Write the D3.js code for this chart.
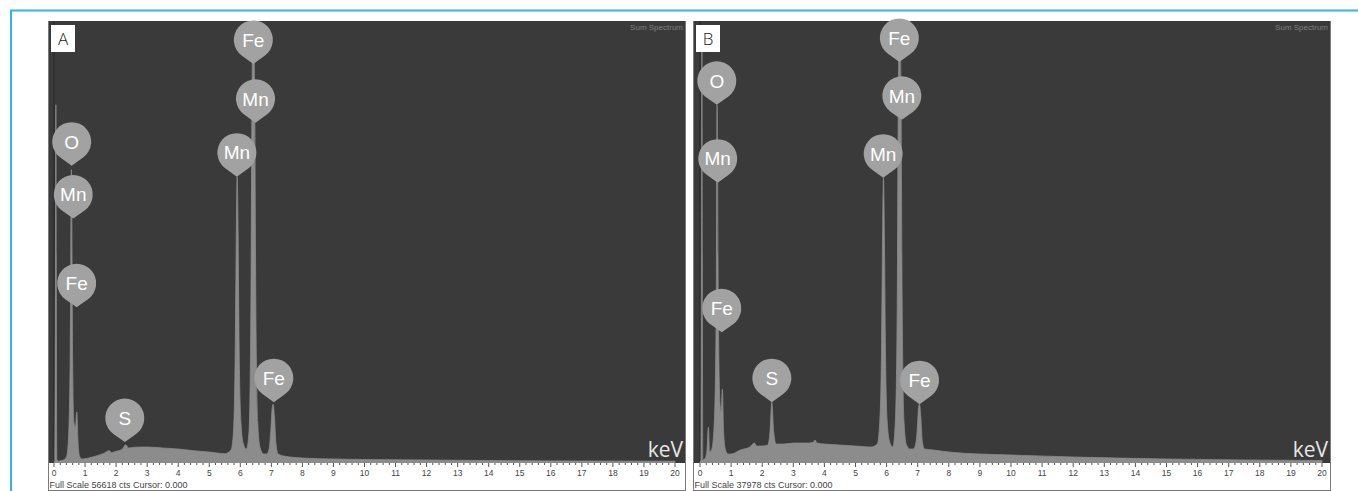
<!DOCTYPE html>
<html><head><meta charset="utf-8">
<script src="https://cdn.jsdelivr.net/npm/d3@7"></script>
<style>html,body{margin:0;padding:0;background:#fff;} svg{display:block;}</style>
</head><body>
<svg id="chart" width="1358" height="491"></svg>
<script>
// ---------- data ----------
const panelLetters = ["A", "B"];
const fullScales = [56618, 37978];
const tickLabels = [0,1,2,3,4,5,6,7,8,9,10,11,12,13,14,15,16,17,18,19,20];

// spectrum A: [keV, counts]
const spectrumA = [
  [0,0],[0.03,256],[0.06,45860],[0.09,256],[0.15,128],[0.30,256],[0.40,641],[0.46,2562],
  [0.52,12810],[0.56,37533],[0.60,12810],[0.64,5124],[0.69,4484],[0.735,6405],[0.77,2818],
  [0.82,769],[0.90,384],[1.0,420],[1.3,700],[1.6,1100],[1.78,1450],[1.85,1200],[2.0,1370],
  [2.2,1650],[2.31,2200],[2.4,1800],[2.6,1900],[3.0,1922],[3.5,1800],[4.0,1665],[4.5,1450],
  [5.0,1281],[5.5,1070],[5.7,1537],[5.78,3843],[5.84,15372],[5.875,30744],[5.90,36637],
  [5.925,30744],[5.96,15372],[6.02,5124],[6.10,2306],[6.20,1665],[6.28,3843],[6.34,19215],
  [6.38,48678],[6.42,56618],[6.46,48678],[6.50,20496],[6.56,5124],[6.64,1793],[6.75,1025],
  [6.85,1025],[6.92,1537],[6.98,3843],[7.03,7046],[7.06,7430],[7.10,5765],[7.15,2306],
  [7.22,1025],[7.4,769],[7.6,641],[8.0,512],[9.0,384],[10,320],[12,256],[14,192],[17,128],[20,102]
];

// spectrum B: [keV, counts]
const spectrumB = [
  [0,0],[0.03,172],[0.06,36344],[0.09,172],[0.15,258],[0.22,860],[0.27,3007],[0.31,860],
  [0.38,1117],[0.46,3437],[0.52,12888],[0.55,30760],[0.59,12888],[0.64,5155],[0.68,4296],
  [0.72,6272],[0.76,2578],[0.82,1031],[0.9,687],[1.0,687],[1.3,1031],[1.6,1289],[1.75,1632],
  [1.82,1375],[2.0,1375],[2.18,1460],[2.25,2578],[2.31,5155],[2.37,2578],[2.45,1546],[2.7,1546],
  [3.0,1632],[3.5,1632],[3.65,1718],[3.7,1890],[3.76,1632],[4.0,1546],[4.5,1460],[5.0,1375],
  [5.5,1289],[5.7,1546],[5.78,3437],[5.84,10310],[5.875,20620],[5.90,24487],[5.925,20620],
  [5.96,10310],[6.02,3437],[6.10,1718],[6.20,1289],[6.28,3437],[6.34,12888],[6.38,32650],
  [6.42,37978],[6.46,32650],[6.50,13747],[6.56,3437],[6.64,1460],[6.75,1117],[6.85,1117],
  [6.92,1375],[6.98,2578],[7.03,4726],[7.06,4983],[7.10,3866],[7.15,1718],[7.22,1117],
  [7.5,1031],[8.0,859],[9.0,687],[10,601],[12,430],[15,258],[20,129]
];

// element labels: [element, keV, counts at pin tip]
const labelsA = [
  ["O", 0.57, 38046], ["Mn", 0.62, 31256], ["Fe", 0.73, 19856], ["S", 2.28, 2562],
  ["Fe", 6.42, 51112], ["Mn", 6.49, 43554], ["Mn", 5.89, 36637], ["Fe", 7.08, 7686]
];
const labelsB = [
  ["O", 0.54, 30760], ["Mn", 0.57, 24058], ["Fe", 0.70, 11170], ["S", 2.31, 5155],
  ["Fe", 6.41, 34454], ["Mn", 6.49, 29471], ["Mn", 5.89, 24487], ["Fe", 7.06, 4983]
];

// ---------- drawing ----------
const svg = d3.select("#chart");
const FONT = "'Liberation Sans', Arial, sans-serif";

// cyan frame
svg.append("line").attr("x1", 10).attr("x2", 1358).attr("y1", 10.5).attr("y2", 10.5)
  .attr("stroke", "#34b4e0").attr("stroke-width", 2);
svg.append("line").attr("x1", 11).attr("x2", 11).attr("y1", 10).attr("y2", 491)
  .attr("stroke", "#34b4e0").attr("stroke-width", 2);

const layouts = [
  {left: 48, right: 686, xr: [54, 675]},
  {left: 693, right: 1331, xr: [700, 1322]}
];
const plotTop = 21, plotBottom = 463, panelBottom = 490;
const spectra = [spectrumA, spectrumB];
const labelSets = [labelsA, labelsB];

function pinPath() {
  const d = 24, r = 19.5;
  const cosP = r / d, sinP = Math.sqrt(1 - cosP * cosP);
  const tx = r * sinP, ty = -d + r * cosP;
  return `M0,0 L${-tx},${ty} A${r},${r} 0 1 1 ${tx},${ty} Z`;
}

layouts.forEach((L, i) => {
  const g = svg.append("g");
  const x = d3.scaleLinear().domain([0, 20]).range(L.xr);
  const y = d3.scaleLinear().domain([0, fullScales[i]]).range([plotBottom - 1, plotTop]);

  // white axis area + border
  g.append("rect").attr("x", L.left + 0.5).attr("y", plotTop + 0.5)
    .attr("width", L.right - L.left - 1).attr("height", panelBottom - plotTop)
    .attr("fill", "#fff").attr("stroke", "#7a7a7a").attr("stroke-width", 1);
  // dark plot area
  g.append("rect").attr("x", L.left + 1).attr("y", plotTop)
    .attr("width", L.right - L.left - 2).attr("height", plotBottom - plotTop)
    .attr("fill", "#3a3a3a");

  const clipId = "clip" + i;
  svg.append("clipPath").attr("id", clipId).append("rect")
    .attr("x", L.left + 1).attr("y", plotTop)
    .attr("width", L.right - L.left - 2).attr("height", plotBottom - plotTop);

  // zero line
  g.append("line").attr("x1", x(0)).attr("x2", x(0)).attr("y1", plotTop).attr("y2", plotBottom)
    .attr("stroke", "#262626").attr("stroke-width", 1);

  // spectrum
  g.append("path").datum(spectra[i])
    .attr("clip-path", `url(#${clipId})`)
    .attr("d", d3.area().x(d => x(d[0])).y0(plotBottom).y1(d => y(d[1])).curve(d3.curveMonotoneX))
    .attr("fill", "#8c8c8c").attr("stroke", "#8c8c8c").attr("stroke-width", 0.8);

  // Sum Spectrum
  g.append("text").attr("x", L.right - 3).attr("y", 30).attr("text-anchor", "end")
    .attr("font-family", FONT).attr("font-size", 8).attr("fill", "#808080").text("Sum Spectrum");

  // panel letter
  g.append("rect").attr("x", L.left + 3).attr("y", 25).attr("width", 24).attr("height", 27).attr("fill", "#fff");
  g.append("text").attr("x", L.left + 15).attr("y", 44.5).attr("text-anchor", "middle")
    .attr("font-family", "'Open Sans', sans-serif").attr("font-weight", 300).attr("font-size", 17)
    .attr("fill", "#222").text(panelLetters[i]);

  // keV
  g.append("text").attr("x", L.right - 3).attr("y", 457).attr("text-anchor", "end")
    .attr("font-family", "'Open Sans', sans-serif").attr("font-size", 21)
    .attr("fill", "#e6e6e6").text("keV");

  // element labels
  const lg = g.selectAll("g.lbl").data(labelSets[i]).join("g").attr("class", "lbl")
    .attr("transform", d => `translate(${x(d[1])},${y(d[2])})`);
  lg.append("path").attr("d", pinPath()).attr("fill", "#a2a2a2");
  lg.append("text").attr("x", 0).attr("y", -24).attr("dy", "0.36em").attr("text-anchor", "middle")
    .attr("font-family", FONT).attr("font-size", 19).attr("fill", "#fff").text(d => d[0]);

  // x axis ticks
  const minor = d3.range(0, 100.5, 1).map(k => k * 0.2);
  g.selectAll("line.mt").data(minor).join("line").attr("class", "mt")
    .attr("x1", d => x(d)).attr("x2", d => x(d))
    .attr("y1", plotBottom).attr("y2", d => Math.abs(d - Math.round(d)) < 1e-6 ? plotBottom + 4 : plotBottom + 2)
    .attr("stroke", "#555").attr("stroke-width", 1);
  g.selectAll("text.tl").data(tickLabels).join("text").attr("class", "tl")
    .attr("x", d => x(d)).attr("y", 475.5).attr("text-anchor", "middle")
    .attr("font-family", FONT).attr("font-size", 8.5).attr("fill", "#444").text(d => d);

  g.append("text").attr("x", L.left + 1.5).attr("y", 488)
    .attr("font-family", FONT).attr("font-size", 9).attr("fill", "#444")
    .text(`Full Scale ${fullScales[i]} cts Cursor: 0.000`);
});
</script>
</body></html>
